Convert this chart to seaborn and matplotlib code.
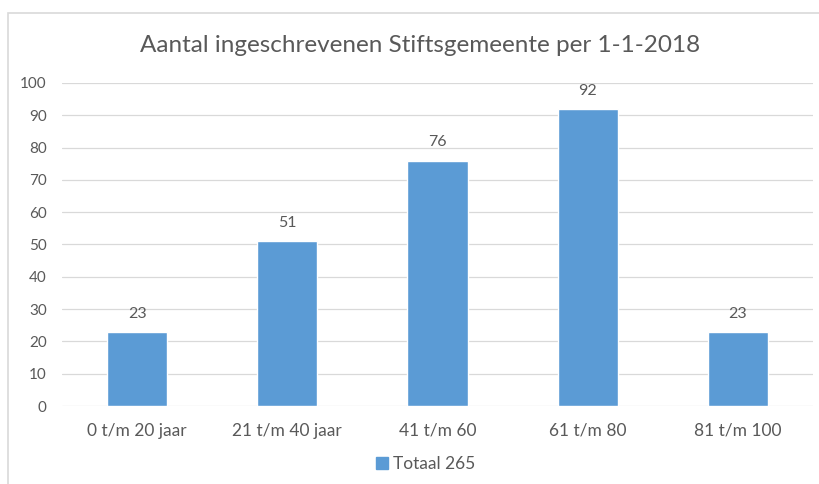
import matplotlib
matplotlib.use("Agg")
import matplotlib.pyplot as plt
import matplotlib.patches as mpatches
import pandas as pd
import seaborn as sns

# data
categorieen = ["0 t/m 20 jaar", "21 t/m 40 jaar", "41 t/m 60", "61 t/m 80", "81 t/m 100"]
aantallen = [23, 51, 76, 92, 23]
legenda_label = "Totaal 265"
titel = "Aantal ingeschrevenen Stiftsgemeente per 1-1-2018"

kleur = "#5B9BD5"
grijs = "#595959"

sns.set_style("white")
plt.rcParams["font.family"] = ["Lato", "DejaVu Sans"]

df = pd.DataFrame({"cat": categorieen, "n": aantallen})

fig = plt.figure(figsize=(8.19, 4.84), dpi=100)
ax = fig.add_axes([62 / 819, 1 - 406 / 484, (813 - 62) / 819, (406 - 83) / 484])

sns.barplot(data=df, x="cat", y="n", color=kleur, width=0.4, ax=ax, saturation=1)

ax.set_ylim(0, 100)
ax.set_xlim(-0.5, len(categorieen) - 0.5)
ax.set_yticks(range(0, 101, 10))
ax.grid(axis="y", color="#D9D9D9", linewidth=0.9)
ax.set_axisbelow(True)
for s in ax.spines.values():
    s.set_visible(False)
ax.tick_params(axis="both", length=0, colors=grijs)
ax.tick_params(axis="y", pad=11, labelsize=11)
ax.tick_params(axis="x", pad=12, labelsize=12.5)
ax.set_xlabel("")
ax.set_ylabel("")

for c in ax.containers:
    ax.bar_label(c, padding=8, color=grijs, fontsize=11.5)

fig.text(0.513, 1 - 45 / 484, titel, ha="center", va="center", fontsize=17.5, color=grijs)

handle = mpatches.Patch(color=kleur, label=legenda_label)
fig.legend(handles=[handle], loc="center", bbox_to_anchor=(0.52, 1 - 464 / 484),
           frameon=False, handlelength=0.7, handleheight=0.7, handletextpad=0.3,
           fontsize=12.5, labelcolor=grijs)

# kader rond de grafiek
kader = mpatches.Rectangle((8 / 819, -0.1), 1.1, 1 - 13 / 484 + 0.1, transform=fig.transFigure,
                           fill=False, edgecolor="#D9D9D9", linewidth=1.2)
fig.patches.append(kader)

fig.savefig("out.png", dpi=100)
